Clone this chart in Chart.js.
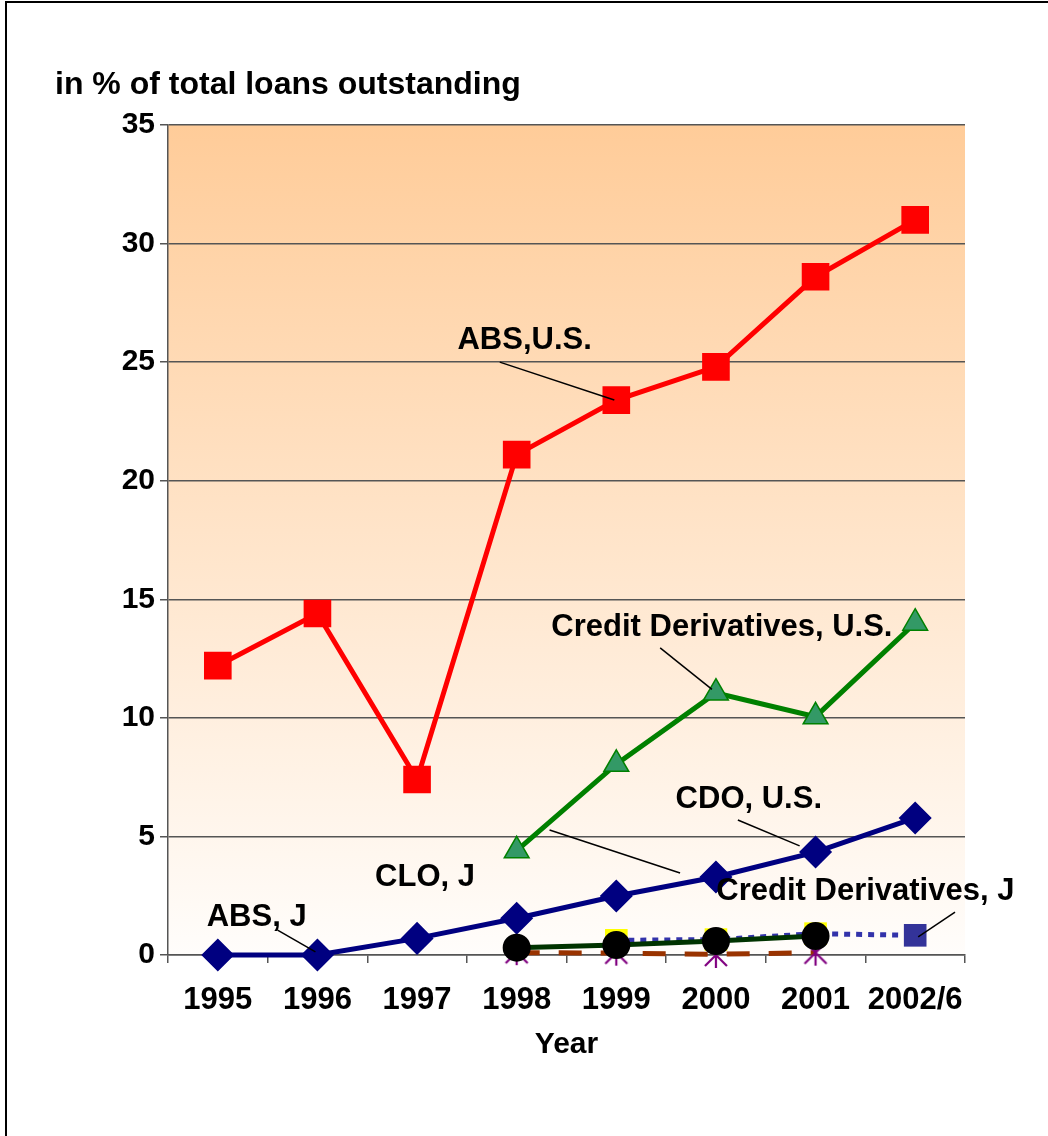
<!DOCTYPE html>
<html>
<head>
<meta charset="utf-8">
<script src="https://cdn.jsdelivr.net/npm/chart.js@4"></script>
<style>
  body { margin: 0; background: #fff; }
  canvas { display: block; }
</style>
</head>
<body>
<canvas id="loanChart" width="1048" height="1136"></canvas>
<script>
const years = ["1995", "1996", "1997", "1998", "1999", "2000", "2001", "2002/6"];
const yTicks = [0, 5, 10, 15, 20, 25, 30, 35];

const absUS = [12.2, 14.4, 7.4, 21.1, 23.4, 24.8, 28.6, 31.0];
const creditDerivUS = [null, null, null, 4.4, 8.05, 11.05, 10.05, 14.0];
const cdoUS = [0, 0, 0.7, 1.55, 2.49, 3.29, 4.34, 5.78];
const absJ = [null, null, null, 0.31, 0.42, 0.59, 0.8, null];
const creditDerivJ = [null, null, null, null, 0.62, 0.65, 0.9, 0.83];
const cloJ = [null, null, null, 0.1, 0.08, 0.03, 0.1, null];
const cdoJ = [null, null, null, 0.12, 0.1, 0, 0.1, null];

const FONT = "'Liberation Sans', Arial, sans-serif";

// asterisk marker (x with a vertical stroke)
function makeStar(color) {
  const c = document.createElement("canvas");
  c.width = 28;
  c.height = 28;
  const g = c.getContext("2d");
  g.strokeStyle = color;
  g.lineWidth = 2.2;
  g.beginPath();
  g.moveTo(3, 3); g.lineTo(25, 25);
  g.moveTo(25, 3); g.lineTo(3, 25);
  g.moveTo(14, 1); g.lineTo(14, 27);
  g.stroke();
  return c;
}

// labels with leader lines, positioned in data units (category index, value)
const notes = [
  { text: "ABS,U.S.", x: 3.08, y: 25.9, from: [2.83, 25.0], to: [3.98, 23.4] },
  { text: "Credit Derivatives, U.S.", x: 5.06, y: 13.8, from: [4.44, 12.95], to: [4.96, 11.2] },
  { text: "CDO, U.S.", x: 5.33, y: 6.54, from: [5.22, 5.69], to: [5.84, 4.6] },
  { text: "CLO, J", x: 2.08, y: 3.29, from: [3.33, 5.27], to: [4.64, 3.46] },
  { text: "Credit Derivatives, J", x: 6.5, y: 2.66, from: [7.4, 1.81], to: [7.03, 0.76] },
  { text: "ABS, J", x: 0.39, y: 1.6, from: [0.6, 1.05], to: [0.98, 0.13] },
];

const plotBackground = {
  id: "plotBackground",
  beforeDraw(chart) {
    const { ctx, chartArea: a } = chart;
    const grad = ctx.createLinearGradient(0, a.top, 0, a.bottom);
    grad.addColorStop(0, "#ffcc99");
    grad.addColorStop(1, "#fffdfb");
    ctx.save();
    ctx.fillStyle = grad;
    ctx.fillRect(a.left, a.top, a.right - a.left, a.bottom - a.top);
    ctx.restore();
  },
};

const callouts = {
  id: "callouts",
  afterDatasetsDraw(chart) {
    const { ctx, scales } = chart;
    const px = (i) => scales.x.getPixelForValue(i);
    const py = (v) => scales.y.getPixelForValue(v);
    ctx.save();
    ctx.strokeStyle = "#000";
    ctx.lineWidth = 1.5;
    notes.forEach((n) => {
      ctx.beginPath();
      ctx.moveTo(px(n.from[0]), py(n.from[1]));
      ctx.lineTo(px(n.to[0]), py(n.to[1]));
      ctx.stroke();
    });
    ctx.fillStyle = "#000";
    ctx.font = "bold 31px " + FONT;
    ctx.textAlign = "center";
    ctx.textBaseline = "middle";
    notes.forEach((n) => ctx.fillText(n.text, px(n.x), py(n.y)));
    ctx.restore();
  },
  afterDraw(chart) {
    const ctx = chart.ctx;
    ctx.save();
    ctx.fillStyle = "#000";
    ctx.font = "bold 32px " + FONT;
    ctx.textAlign = "left";
    ctx.textBaseline = "alphabetic";
    ctx.fillText("in % of total loans outstanding", 55, 94);
    // frame
    ctx.strokeStyle = "#000";
    ctx.lineWidth = 2;
    ctx.beginPath();
    ctx.moveTo(6, 1136);
    ctx.lineTo(6, 2);
    ctx.lineTo(1048, 2);
    ctx.stroke();
    ctx.restore();
  },
};

const jPointColors = creditDerivJ.map((v, i) => (i === 7 ? "#333399" : "#ffff00"));

new Chart(document.getElementById("loanChart"), {
  type: "line",
  data: {
    labels: years,
    datasets: [
      {
        label: "ABS, J",
        data: absJ,
        borderColor: "#003300",
        borderWidth: 5,
        pointStyle: "circle",
        pointRadius: 11.5,
        pointBackgroundColor: "#000",
        pointBorderColor: "#000",
      },
      {
        label: "CDO, J",
        data: cdoJ,
        showLine: false,
        pointStyle: makeStar("#800080"),
      },
      {
        label: "Credit Derivatives, J",
        data: creditDerivJ,
        borderColor: "#3333aa",
        borderWidth: 5,
        borderDash: [6, 6],
        pointStyle: "rect",
        pointRadius: 16,
        pointBackgroundColor: jPointColors,
        pointBorderColor: jPointColors,
        pointBorderWidth: 0,
      },
      {
        label: "CLO, J",
        data: cloJ,
        borderColor: "#993300",
        borderWidth: 5,
        borderDash: [23, 19],
        pointRadius: 0,
      },
      {
        label: "CDO, U.S.",
        data: cdoUS,
        borderColor: "#000080",
        borderWidth: 5,
        pointStyle: "rectRot",
        pointRadius: 13,
        pointBackgroundColor: "#000080",
        pointBorderColor: "#000080",
      },
      {
        label: "Credit Derivatives, U.S.",
        data: creditDerivUS,
        borderColor: "#008000",
        borderWidth: 5,
        pointStyle: "triangle",
        pointRadius: 14.3,
        pointBackgroundColor: "#339966",
        pointBorderColor: "#008000",
        pointBorderWidth: 1.5,
      },
      {
        label: "ABS, U.S.",
        data: absUS,
        borderColor: "#ff0000",
        borderWidth: 5,
        pointStyle: "rect",
        pointRadius: 16,
        pointBackgroundColor: "#ff0000",
        pointBorderColor: "#ff0000",
      },
    ],
  },
  options: {
    responsive: false,
    animation: false,
    clip: false,
    layout: { padding: { top: 125, right: 83, bottom: 0, left: 0 } },
    plugins: {
      legend: { display: false },
      tooltip: { enabled: false },
    },
    scales: {
      x: {
        offset: true,
        afterFit: (scale) => { scale.height = 181; },
        border: { color: "#555", width: 1.5 },
        grid: {
          offset: true,
          drawOnChartArea: false,
          drawTicks: true,
          tickLength: 8,
          color: "#555",
          lineWidth: 1.5,
        },
        ticks: {
          color: "#000",
          padding: 19,
          maxRotation: 0,
          minRotation: 0,
          autoSkip: false,
          font: { family: FONT, size: 31, weight: "bold" },
        },
        title: {
          display: true,
          text: "Year",
          color: "#000",
          padding: { top: 4, bottom: 73 },
          font: { family: FONT, size: 30, weight: "bold" },
        },
      },
      y: {
        min: 0,
        max: 35,
        afterFit: (scale) => { scale.width = 168; },
        afterBuildTicks: (scale) => { scale.ticks = yTicks.map((v) => ({ value: v })); },
        border: { color: "#555", width: 1.5 },
        grid: {
          color: "#555",
          lineWidth: 1.5,
          tickLength: 8,
        },
        ticks: {
          color: "#000",
          padding: 5,
          font: { family: FONT, size: 30, weight: "bold" },
        },
      },
    },
  },
  plugins: [plotBackground, callouts],
});
</script>
</body>
</html>
